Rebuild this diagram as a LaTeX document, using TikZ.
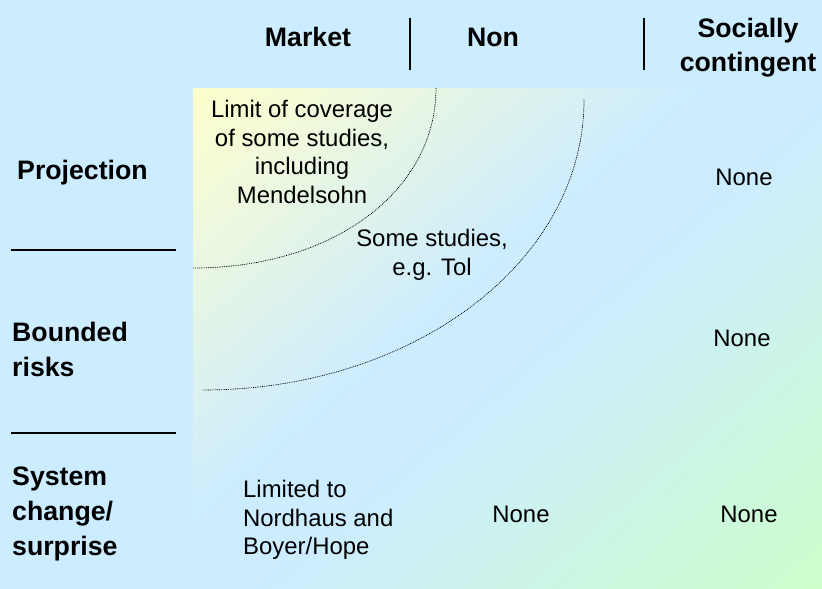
\documentclass[tikz,border=0pt]{standalone}
\usepackage{fontspec}
\setmainfont{Liberation Sans}
\definecolor{bgblue}{HTML}{CCECFF}
\definecolor{yel}{HTML}{FFFFCC}
\definecolor{grn}{HTML}{CCFFCC}
\tikzset{
  head/.style={font=\fontsize{26.7}{34}\selectfont\bfseries, inner sep=0pt, align=center},
  rowlab/.style={font=\fontsize{26.7}{35}\selectfont\bfseries, inner sep=0pt, align=left, anchor=west},
  cell/.style={font=\fontsize{23.9}{28.5}\selectfont, inner sep=0pt, align=center},
  sep/.style={line width=1.4pt, black},
  arcline/.style={line width=0.7pt, dash pattern=on 0.9pt off 0.9pt, black}
}
\begin{document}
\begin{tikzpicture}[x=1pt,y=-1pt]
\useasboundingbox (0,0) rectangle (822,589);
\fill[bgblue] (0,0) rectangle (822,589);
% diagonal gradient: yellow (top-left) -> blue -> green (bottom-right)
\begin{scope}
  \clip (193,88) rectangle (822,589);
  \begin{scope}[shift={(193,88)}, rotate=-49.5]
    \foreach \i in {0,...,164} {
      \pgfmathsetmacro{\t}{\i*5}
      \pgfmathsetmacro{\py}{max(0,min(100,100-\t/3.3))}
      \pgfmathsetmacro{\pg}{max(0,min(100,(\t-420)/3.6))}
      \colorlet{cA}{yel!\py!bgblue}
      \colorlet{cB}{grn!\pg!cA}
      \fill[cB] (\t,-900) rectangle (\t+5.6,900);
    }
  \end{scope}
\end{scope}
% headers
\node[head] (market) at (308,37) {Market};
\node[head] (non) at (493,37) {Non};
\node[head] (soc) at (748,48) {Socially\\contingent};
% header separators
\coordinate (s1t) at (410,18); \coordinate (s1b) at (410,70);
\coordinate (s2t) at (644,18); \coordinate (s2b) at (644,70);
\draw[sep] (s1t) -- (s1b);
\draw[sep] (s2t) -- (s2b);
% row labels
\node[rowlab] (proj) at (17,173) {Projection};
\node[rowlab] (bound) at (12,349) {Bounded\\risks};
\node[rowlab] (sys) at (12,514) {System\\change/\\surprise};
% row separators
\coordinate (h1a) at (11,250); \coordinate (h1b) at (176,250);
\coordinate (h2a) at (11,433); \coordinate (h2b) at (176,433);
\draw[sep] (h1a) -- (h1b);
\draw[sep] (h2a) -- (h2b);
% arcs
\coordinate (a1s) at (436,88); \coordinate (a1e) at (193,268);
\coordinate (a2s) at (584,100); \coordinate (a2e) at (203,390);
\draw[arcline] (a1s) .. controls (436,190) and (335,268) .. (a1e);
\draw[arcline] (a2s) .. controls (584,262) and (413,390) .. (a2e);
% cells
\node[cell] (limit) at (302,152) {Limit of coverage\\of some studies,\\including\\Mendelsohn};
\node[cell] (tol) at (432,255) {Some studies,\\e.g. Tol};
\node[cell] (n1) at (744,177) {None};
\node[cell] (n2) at (742,338) {None};
\node[cell, align=left, anchor=west] (lim) at (243,520) {Limited to\\Nordhaus and\\Boyer/Hope};
\node[cell] (n3) at (521,514) {None};
\node[cell] (n4) at (749,514) {None};
\end{tikzpicture}
\end{document}
